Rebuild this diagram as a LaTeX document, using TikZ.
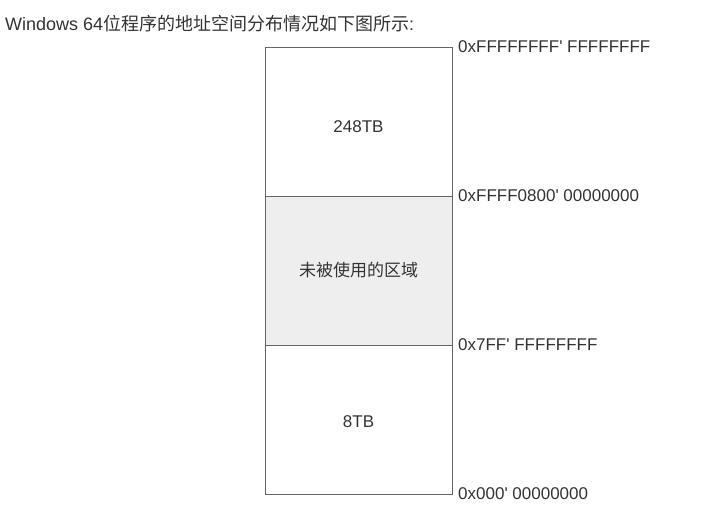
\documentclass[tikz,border=0pt]{standalone}
\usepackage{fontspec}
\setmainfont{Liberation Sans}
\newfontfamily\cjk{Noto Sans CJK SC}
\usetikzlibrary{positioning}
\definecolor{txtgray}{HTML}{333333}
\definecolor{linegray}{HTML}{666666}
\definecolor{unused}{HTML}{EEEEEE}
\newcommand{\q}{\textquotesingle}
\tikzstyle{region} = [rectangle, minimum width=187pt, minimum
height=149pt, outer sep=0pt, text centered, draw=linegray, line width=0.9pt,
text=txtgray, font=\fontsize{17}{20}\selectfont]
\tikzstyle{addr} = [inner sep=0pt, anchor=west, text=txtgray,
font=\fontsize{17}{20}\selectfont]

\begin{document}
\begin{tikzpicture}[x=1pt, y=-1pt, node distance=149pt]
\useasboundingbox (0,0) rectangle (709,512);

\node(title)[anchor=west, inner sep=0pt, text=txtgray, font=\fontsize{18}{21}\selectfont]
at (5,24) {Windows 64{\cjk 位程序的地址空间分布情况如下图所示}:};

\node(high)[region] at (358.5,121.5) {\raisebox{-11pt}[0pt][0pt]{248TB}};
\node(hole)[region, fill=unused, below of=high] {\cjk 未被使用的区域};
\node(low)[region, below of=hole] {\raisebox{-7.5pt}[0pt][0pt]{8TB}};

\node(aTop)[addr, right=6pt of high.north east] {0xFFFFFFFF\q{} FFFFFFFF};
\node(aHole)[addr, right=6pt of hole.north east] {0xFFFF0800\q{} 00000000};
\node(aLow)[addr, right=6pt of low.north east] {0x7FF\q{} FFFFFFFF};
\node(aZero)[addr, right=6pt of low.south east] {0x000\q{} 00000000};

\end{tikzpicture}
\end{document}
